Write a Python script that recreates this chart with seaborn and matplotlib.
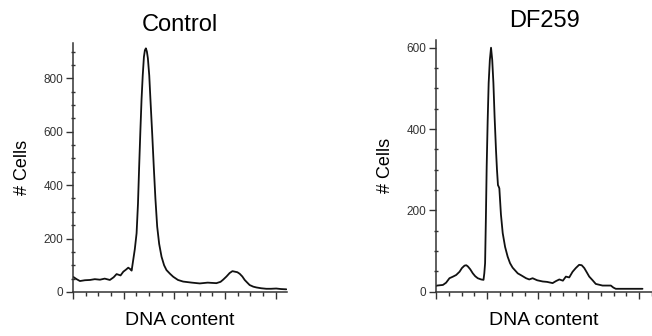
"""DNA content histograms: Control vs DF259."""

import matplotlib
matplotlib.use("Agg")
import matplotlib.pyplot as plt
from matplotlib.ticker import MultipleLocator, NullFormatter
import seaborn as sns


# Values (x = channel, y = number of cells).
ctrl_x = [0, 18, 35, 60, 86, 110, 136, 160, 186, 205,
          220, 240, 254, 268, 279, 290, 296, 304, 312, 321,
          328, 334, 340, 346, 352, 358, 363, 368, 373, 378,
          385, 391, 400, 408, 416, 425, 435, 447, 460, 472,
          490, 506, 530, 556, 600, 640, 680, 724, 745, 758,
          775, 791, 805, 817, 830, 842, 855, 867, 880, 892,
          910, 926, 950, 976, 1000, 1026, 1050, 1077]
ctrl_y = [57, 48, 41, 44, 45, 48, 46, 50, 45, 55,
          67, 62, 76, 84, 91, 85, 80, 120, 160, 220,
          330, 470, 600, 720, 810, 880, 905, 912, 900, 875,
          810, 720, 590, 466, 350, 245, 180, 132, 100, 82,
          68, 57, 45, 39, 35, 32, 35, 33, 38, 46,
          58, 71, 78, 76, 74, 68, 58, 45, 35, 26,
          20, 17, 14, 12, 12, 13, 11, 10]

df_x = [0, 5, 34, 50, 67, 85, 101, 118, 130, 143,
        152, 160, 172, 185, 197, 210, 227, 239, 243, 247,
        251, 255, 260, 265, 271, 277, 283, 289, 295, 302,
        307, 312, 316, 319, 327, 336, 348, 361, 373, 386,
        399, 412, 430, 454, 470, 487, 510, 538, 560, 588,
        605, 622, 640, 655, 672, 689, 705, 722, 735, 748,
        760, 773, 790, 806, 823, 840, 860, 882, 895, 907,
        950, 1000, 1042]
df_y = [14, 15, 16.5, 22, 33, 37, 41, 49, 58, 64,
        65, 62, 55, 45, 38, 33, 30, 29, 45, 70,
        180, 307, 420, 513, 570, 600, 570, 513, 430, 349,
        300, 262, 258, 254, 190, 144, 110, 86, 70, 59,
        52, 45, 40, 33, 30, 33, 28, 25, 24, 21,
        26, 30, 27, 37, 35, 49, 58, 66, 65, 58,
        48, 37, 28, 19, 17, 15, 15, 15, 10, 7,
        7, 7, 7]

titles = ["Control", "DF259"]
y_tops = [932, 619]
x_ends = [1080, 1090]


sns.set_style("ticks")
plt.rcParams["font.family"] = ["Liberation Sans", "DejaVu Sans"]

fig = plt.figure(figsize=(6.52, 3.36), dpi=100)
ax1 = fig.add_axes([0.112, 0.131, 0.328, 0.741])
ax2 = fig.add_axes([0.669, 0.132, 0.331, 0.749])

for ax, xs, ys, title, top, xend in zip([ax1, ax2], [ctrl_x, df_x], [ctrl_y, df_y],
                                        titles, y_tops, x_ends):
    sns.lineplot(x=xs, y=ys, ax=ax, color="#111111", linewidth=1.3)
    ax.set_xlim(0, xend)
    ax.set_ylim(0, top)
    sns.despine(ax=ax)
    for side in ["left", "bottom"]:
        ax.spines[side].set_color("#333333")
        ax.spines[side].set_linewidth(1.1)

    ax.yaxis.set_major_locator(MultipleLocator(200))
    ax.yaxis.set_minor_locator(MultipleLocator(50))
    ax.xaxis.set_major_locator(MultipleLocator(256))
    ax.xaxis.set_minor_locator(MultipleLocator(64))
    ax.xaxis.set_major_formatter(NullFormatter())
    ax.tick_params(axis="y", which="major", length=5, width=1, color="#333333",
                   labelsize=8.5, labelcolor="#333333", pad=2)
    ax.tick_params(axis="y", which="minor", length=2.5, width=1, color="#333333",
                   direction="inout")
    ax.tick_params(axis="x", which="major", length=5, width=1, color="#333333")
    ax.tick_params(axis="x", which="minor", length=3, width=1, color="#333333")

    ax.set_title(title, fontsize=17, pad=9, color="black")
    ax.set_xlabel("DNA content", fontsize=14, labelpad=6, color="black")
    ax.set_ylabel("# Cells", fontsize=13, labelpad=9, color="black")

plt.savefig("out.png", dpi=100)
